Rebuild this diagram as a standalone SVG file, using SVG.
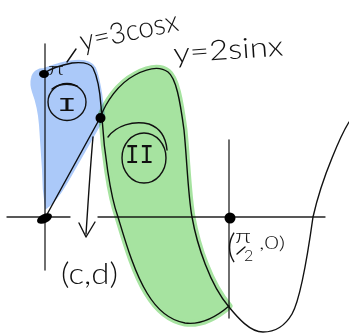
<svg xmlns="http://www.w3.org/2000/svg" width="349" height="336" viewBox="0 0 349 336">
<style>
.ln{fill:none;stroke:#111;stroke-width:1.4;stroke-linecap:round;stroke-linejoin:round}
.ax{fill:none;stroke:#222;stroke-width:1.3;stroke-linecap:round}
.hand{font-family:Lato,"Liberation Sans",sans-serif;font-weight:300;fill:#111}
.rom{font-family:"Liberation Mono",monospace;fill:#111}
.dot{fill:#000}
.blue{fill:#abc9f9;stroke:#abc9f9;stroke-width:2;mix-blend-mode:multiply}
.green{fill:#a6e3a0;stroke:#a6e3a0;stroke-width:7;stroke-linejoin:round;mix-blend-mode:multiply}
</style>
<rect width="349" height="336" fill="#fff"/>
<g id="axes">
<path class="ax" d="M45,44 L45,270"/>
<path class="ax" d="M7,217 L70,217"/>
<path class="ax" d="M98,217 L325,217"/>
<path class="ax" d="M229,140 L229,318"/>
</g>
<g id="connectors">
<path id="cos-curve" class="ln" d="M44,73 C52,68 62,65 72,63 C82,62 90,63 93,68 C97,76 100,92 101,106 L102,118 C104,150 110,195 118,217 C125,240 134,272 147,293 C156,308 168,320 185,323 C200,325 215,318 229,306"/>
<path id="sin-curve" class="ln" d="M45,218 L100,118 C106,102 118,84 135,75 C148,68 160,66 168,72 C176,78 180,100 184,130 C187,160 188,195 192,217 C197,245 210,285 229,307 C238,318 250,332 263,332 C275,332 285,326 292,314 C300,300 307,260 313,217 C318,195 325,175 332,158 C338,143 344,130 349,122"/>
<path id="arrow" class="ln" d="M93,137 C90,170 88,205 86,234"/>
<path class="ln" d="M79,223 L86,237 L95,222"/>
</g>
<g id="region-I">
<path class="blue" d="M32,78 C33,72 38,69 44,69 C52,66 62,62 75,61 C86,60 92,63 95,68 C99,78 102,96 104,117 L67,182 C60,194 52,204 46,208 C44,195 43,180 43,170 C42,155 41,140 40,125 C39,112 36,100 33,92 C31,86 31,82 32,78 Z"/>
<ellipse class="ln" cx="67" cy="102" rx="19" ry="18.5"/>
<path class="ln" d="M52,89 C58,84 68,83 77,86"/>
<text class="rom" x="57" y="111" font-size="20" textLength="20" lengthAdjust="spacingAndGlyphs">I</text>
</g>
<g id="region-II">
<path class="green" d="M102,118 C104,150 110,195 118,217 C125,240 134,272 147,293 C156,308 168,320 185,323 C200,325 215,318 229,306 C210,285 197,245 192,217 C188,195 187,160 184,130 C180,100 176,78 168,72 C160,66 148,68 135,75 C118,84 106,102 100,118 Z"/>
<ellipse class="ln" cx="144" cy="158" rx="22" ry="25"/>
<path class="ln" d="M108,137 C116,126 133,120 149,124 C160,128 166,138 167,150"/>
<text class="rom" x="125" y="163" font-size="27" textLength="29" lengthAdjust="spacingAndGlyphs">II</text>
</g>
<g id="points">
<ellipse class="dot" cx="44" cy="74" rx="5" ry="4"/>
<ellipse class="dot" cx="44.5" cy="218.5" rx="8" ry="4.5" transform="rotate(-25 44.5 218.5)"/>
<circle class="dot" cx="100.5" cy="118" r="5"/>
<circle class="dot" cx="230" cy="218" r="5.5"/>
</g>
<g id="labels">
<path class="ln" d="M67,62 L76,49"/>
<text class="hand" x="82" y="51" font-size="29" textLength="100" lengthAdjust="spacingAndGlyphs" transform="rotate(-12 82 51)">y=3cosx</text>
<text class="hand" x="174" y="63" font-size="28" textLength="110" lengthAdjust="spacingAndGlyphs" transform="rotate(-4 174 63)">y=2sinx</text>
<text class="hand" x="48" y="75" font-size="17" textLength="16" lengthAdjust="spacingAndGlyphs">π</text>
<text class="hand" x="61" y="284" font-size="29" textLength="57" lengthAdjust="spacingAndGlyphs">(c,d)</text>
<text class="hand" x="227" y="258" font-size="34">(</text>
<text class="hand" x="235" y="243" font-size="20" textLength="16" lengthAdjust="spacingAndGlyphs">π</text>
<path class="ln" d="M237,254 L245,247"/>
<text class="hand" x="244" y="261" font-size="16">2</text>
<text class="hand" x="259" y="249" font-size="18" textLength="26" lengthAdjust="spacingAndGlyphs">,0)</text>
</g>
</svg>
